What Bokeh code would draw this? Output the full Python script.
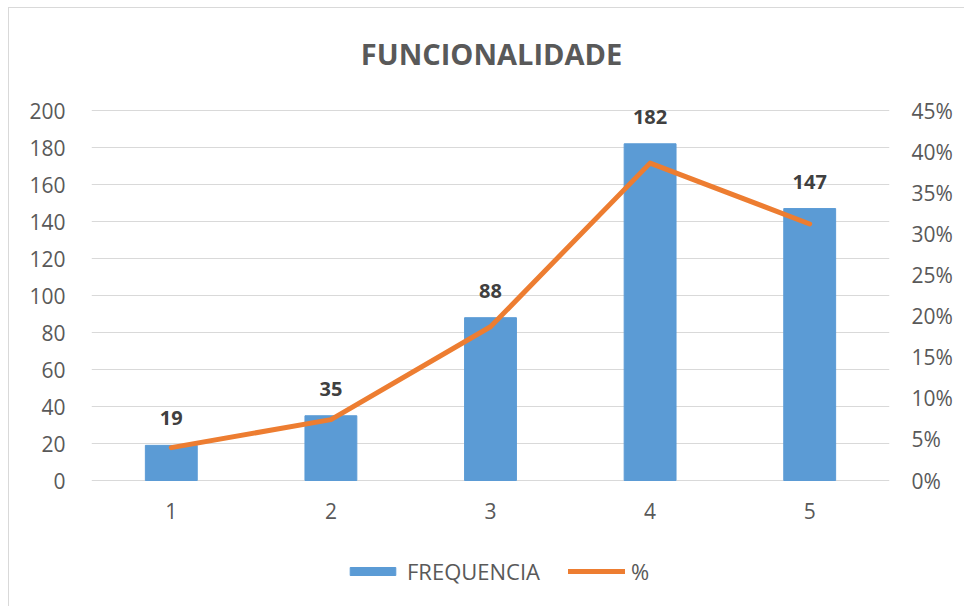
from bokeh.plotting import figure
from bokeh.models import (ColumnDataSource, Range1d, LinearAxis, FixedTicker,
                          NumeralTickFormatter, LabelSet, Label, Legend, LegendItem)
from bokeh.core.properties import value
from bokeh.embed import file_html
from bokeh.resources import INLINE

title_text = "FUNCIONALIDADE"
categories = [1, 2, 3, 4, 5]
frequencia = [19, 35, 88, 182, 147]
percent = [0.040, 0.074, 0.187, 0.386, 0.312]
left_ticks = [0, 20, 40, 60, 80, 100, 120, 140, 160, 180, 200]
right_ticks = [0, 0.05, 0.10, 0.15, 0.20, 0.25, 0.30, 0.35, 0.40, 0.45]

src = ColumnDataSource(dict(x=categories, f=frequencia, p=percent,
                            lab=[str(v) for v in frequencia],
                            xl=[str(c) for c in categories],
                            zero=[0] * len(categories)))

FONT = "Open Sans"
TXT = "#595959"

# frame extends below (category labels, legend) and above (title) the value area
EXT_B = 120 / 370.0
EXT_T = 100 / 370.0
p = figure(width=964, height=606, output_backend="svg", toolbar_location=None,
           x_range=Range1d(0.5, 5.5),
           y_range=Range1d(-200 * EXT_B, 200 * (1 + EXT_T)),
           x_axis_location=None,
           min_border_left=91, min_border_right=75, min_border_top=10,
           min_border_bottom=6)
p.styles = {"background": "linear-gradient(#d9d9d9,#d9d9d9) 8px 7px / 1px 100% no-repeat, "
                          "linear-gradient(#d9d9d9,#d9d9d9) 8px 7px / 100% 1px no-repeat, white"}
p.outline_line_color = None
p.background_fill_color = "white"
p.border_fill_alpha = 0

p.add_layout(Label(x=400, y=547, x_units="screen", y_units="screen", text=title_text,
                   text_align="center", text_baseline="middle", text_font=FONT,
                   text_font_size="29px", text_font_style="bold", text_color=TXT))

p.extra_y_ranges = {"pct": Range1d(-0.45 * EXT_B, 0.45 * (1 + EXT_T))}

bars = p.vbar(x="x", top="f", width=0.325, source=src, color="#5B9BD5")
line = p.line(x="x", y="p", source=src, y_range_name="pct",
              line_color="#ED7D31", line_width=5, line_join="round", line_cap="round")

labels = LabelSet(x="x", y="f", text="lab", source=src, text_align="center",
                  text_baseline="middle", y_offset=27, text_font=value(FONT),
                  text_font_size=value("20px"), text_font_style=value("bold"),
                  text_color=value("#404040"))
p.add_layout(labels)

xlabels = LabelSet(x="x", y="zero", text="xl", source=src, text_align="center",
                   text_baseline="middle", y_offset=-30, text_font=value(FONT),
                   text_font_size=value("21px"), text_color=value(TXT))
p.add_layout(xlabels)

# left axis
p.yaxis.ticker = FixedTicker(ticks=left_ticks)
p.yaxis.major_tick_line_color = None
p.yaxis.minor_tick_line_color = None
p.yaxis.major_label_text_font = FONT
p.yaxis.major_label_text_font_size = "21px"
p.yaxis.major_label_text_color = TXT
p.yaxis.axis_line_color = None
p.yaxis.major_label_standoff = 20

rax = LinearAxis(y_range_name="pct", ticker=FixedTicker(ticks=right_ticks),
                 formatter=NumeralTickFormatter(format="0%"))
rax.axis_line_color = None
rax.major_tick_line_color = None
rax.minor_tick_line_color = None
rax.major_label_text_font = FONT
rax.major_label_text_font_size = "21px"
rax.major_label_text_color = TXT
rax.major_label_standoff = 16
p.add_layout(rax, "right")

p.xgrid.grid_line_color = None
p.ygrid.grid_line_color = "#d9d9d9"
p.ygrid.ticker = FixedTicker(ticks=left_ticks)

legend = Legend(items=[LegendItem(label="FREQUENCIA", renderers=[bars]),
                       LegendItem(label="%", renderers=[line])],
                orientation="horizontal", location=(253, 14),
                label_text_font=FONT, label_text_font_size="22px",
                label_text_color=TXT, glyph_width=57, glyph_height=10,
                label_standoff=6, spacing=28, border_line_color=None,
                background_fill_alpha=0, margin=0, padding=0)
p.add_layout(legend)

open("out.html", "w").write(file_html(p, INLINE))
